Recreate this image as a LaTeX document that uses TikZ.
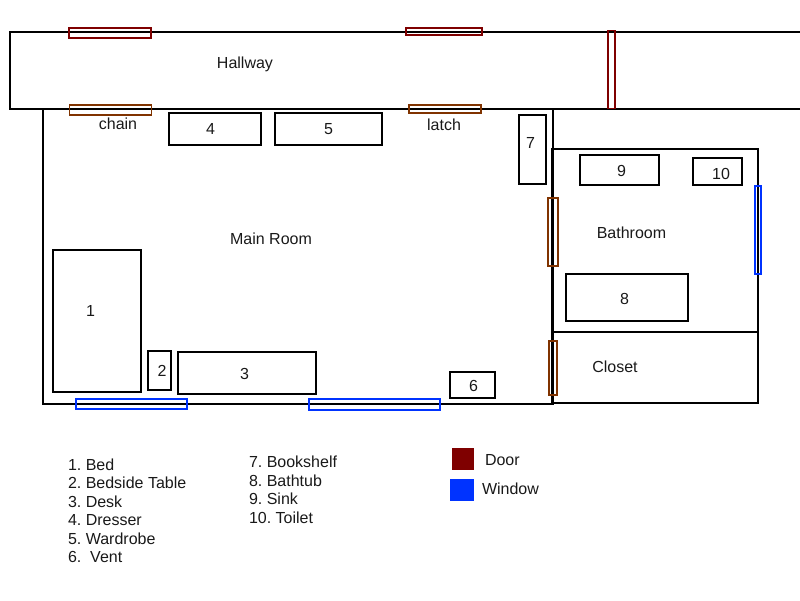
\documentclass[tikz,border=0pt]{standalone}
\usepackage{fontspec}
\setmainfont{Liberation Sans}
\usepackage{xcolor}
\definecolor{doorred}{HTML}{7F0000}
\definecolor{doorbrown}{HTML}{803300}
\definecolor{windowblue}{HTML}{0033FF}
\frenchspacing
\begin{document}
\begin{tikzpicture}[x=1pt,y=-1pt]
  \tikzset{wall/.style = {draw,line width=2pt,line join=miter}}
  \tikzset{box/.style = {shape=rectangle,draw,line width=2pt,inner sep=0pt,outer sep=0pt}}
  \tikzset{opening/.style = {shape=rectangle,draw,line width=1.8pt,inner sep=0pt,outer sep=0pt}}
  \tikzset{swatch/.style = {shape=rectangle,inner sep=0pt,outer sep=0pt}}
  \tikzset{lbl/.style = {inner sep=0pt,outer sep=0pt,anchor=base,text=black!90,font=\fontsize{16}{19}\selectfont}}
  \tikzset{item/.style = {lbl,anchor=base west}}
  \useasboundingbox (0,0) rectangle (800,600);

	% rooms
	\draw[wall] (800,32) -- (10,32) -- (10,109) -- (800,109);
	\draw[wall] (43,109) -- (43,404) -- (553,404) -- (553,109);
	\draw[wall] (552,149) rectangle (758,332);
	\draw[wall] (552,332) -- (552,403) -- (758,403) -- (758,332);

	% furniture
	\foreach \name/\cx/\cy/\w/\h in {bed/97/321/88/142, table/159.5/370.5/23/39, desk/247/373/138/42,
	  dresser/215/129/92/32, wardrobe/328.5/129/107/32, vent/472.5/385/45/26,
	  bookshelf/532.5/149.5/27/69, bathtub/627/297.5/122/47, sink/619.5/170/79/30, toilet/717.5/171.5/49/27}
	  \node[box,minimum width=\w pt,minimum height=\h pt] (\name) at (\cx,\cy) {};

	% doors and windows
	\foreach \name/\cx/\cy/\w/\h/\col in {halldoorA/110/33/82/10/doorred, halldoorB/444/31.5/76/7/doorred,
	  halldoorC/611.5/69.5/7/78/doorred, chaindoor/110.5/110/82/10/doorbrown, latchdoor/445/109/72/8/doorbrown,
	  bathdoor/553/232/10/68/doorbrown, closetdoor/553/368/8/54/doorbrown,
	  bathwindow/758/230/6/88/windowblue, windowA/131.5/404/111/10/windowblue, windowB/374.5/404.5/131/11/windowblue}
	  \node[opening,draw=\col,minimum width=\w pt,minimum height=\h pt] (\name) at (\cx,\cy) {};

	% room names and numbers
	\node[lbl] (hallway) at (245,68) {Hallway};
	\node[lbl] (mainroom) at (271,244) {Main Room};
	\node[lbl] (bathroom) at (631.5,238) {Bathroom};
	\node[lbl] (closet) at (615,372) {Closet};
	\node[lbl] (chain) at (118,129) {chain};
	\node[lbl] (latch) at (444,130) {latch};
	\foreach \n/\x/\y in {1/90.5/316, 2/162/376, 3/244.5/379, 4/210.5/134, 5/328.5/134,
	  6/473.5/391, 7/530.5/148, 8/624.5/304, 9/621.5/176, 10/721/179}
	  \node[lbl] (num\n) at (\x,\y) {\n};

	% legend
	\foreach \n/\y/\txt in {1/470/1. Bed, 2/488/2. Bedside Table, 3/507/3. Desk,
	  4/525/4. Dresser, 5/544/5. Wardrobe, 6/562/6.\ \ Vent}
	  \node[item] (keyA\n) at (68,\y) {\txt};
	\foreach \n/\y/\txt in {7/467/7. Bookshelf, 8/486/8. Bathtub, 9/504/9. Sink, 10/523/10. Toilet}
	  \node[item] (keyB\n) at (249,\y) {\txt};
	\node[swatch,fill=doorred,minimum width=22pt,minimum height=22pt] (doorkey) at (463,459) {};
	\node[swatch,fill=windowblue,minimum width=24pt,minimum height=22pt] (windowkey) at (462,490) {};
	\node[item] (doortext) at (485,465) {Door};
	\node[item] (windowtext) at (482,494) {Window};

\end{tikzpicture}
\end{document}
